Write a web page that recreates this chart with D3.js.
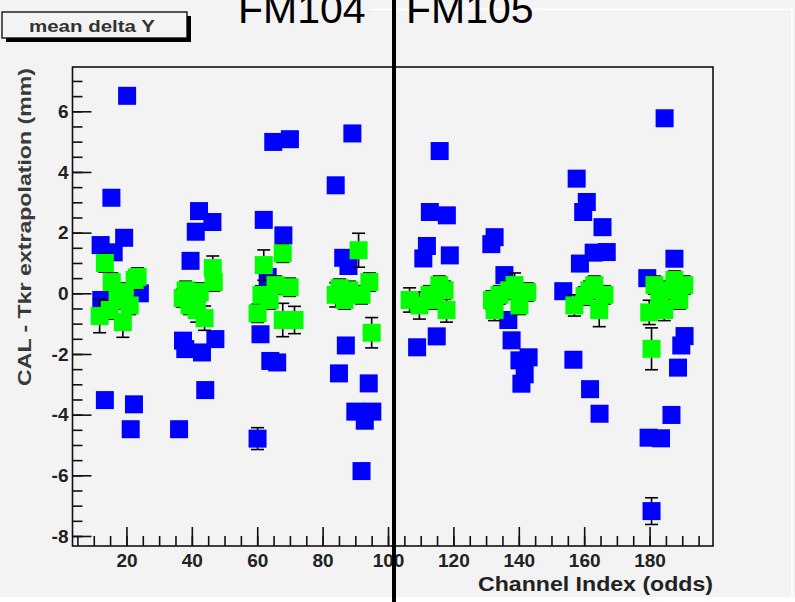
<!DOCTYPE html>
<html>
<head>
<meta charset="UTF-8">
<title>mean delta Y</title>
<script src="https://d3js.org/d3.v7.min.js"></script>
<style>
  body { margin: 0; background: #f3f3f3; }
  svg { display: block; }
</style>
</head>
<body>
<script>
// blue series: channel index, mean delta Y (mm), error
var blueX = [12.1, 12.3, 13.4, 15.4, 16.1, 19.3, 20.2, 21.3, 22.3, 24.1,
             36.1, 37.3, 38.0, 39.6, 41.2, 42.2, 43.1, 44.1, 46.3, 47.2,
             60.1, 61.0, 62.0, 63.2, 64.0, 64.9, 66.1, 68.0, 70.0,
             84.0, 85.0, 86.3, 87.1, 87.9, 89.1, 90.0, 91.9, 92.9, 94.1, 95.2,
             108.9, 110.8, 111.9, 112.8, 114.9, 115.8, 118.0, 118.9,
             131.6, 132.6, 135.6, 136.8, 137.8, 140.2, 140.8, 141.8, 143.0,
             153.6, 156.7, 157.7, 158.7, 159.7, 160.8, 161.8, 162.9, 164.7, 165.6, 166.9,
             179.3, 179.7, 180.6, 183.5, 184.6, 186.7, 187.6, 188.7, 189.7, 190.7];
var blueY = [1.59, -0.22, -3.52, 3.15, 1.35, 1.83, 6.51, -4.48, -3.66, 0.0,
             -4.48, -1.56, -1.84, 1.07, 2.03, 2.71, -1.95, -3.19, 2.35, -1.51,
             -4.79, -1.35, 2.42, 0.54, -2.23, 4.99, -2.28, 1.91, 5.08,
             3.56, -2.64, 1.17, -1.72, 0.9, 5.27, -3.9, -5.86, -4.2, -2.97, -3.9,
             -1.78, 1.15, 1.56, 2.68, -1.42, 4.69, 2.57, 1.25,
             1.62, 1.85, 0.6, -0.88, -1.55, -2.21, -2.98, -2.67, -2.11,
             0.07, -2.19, 3.78, 0.98, 2.68, 3.01, -3.16, 1.34, -3.97, 2.18, 1.36,
             0.5, -4.76, -7.18, -4.78, 5.77, -4.01, 1.14, -2.45, -1.72, -1.41];
var blueErr = [0.2, 0.2, 0.2, 0.2, 0.2, 0.2, 0.2, 0.2, 0.2, 0.2,
               0.2, 0.2, 0.2, 0.2, 0.2, 0.2, 0.2, 0.2, 0.2, 0.2,
               0.36, 0.2, 0.2, 0.2, 0.2, 0.2, 0.2, 0.2, 0.2,
               0.2, 0.2, 0.2, 0.2, 0.2, 0.2, 0.2, 0.2, 0.2, 0.2, 0.2,
               0.2, 0.2, 0.2, 0.2, 0.2, 0.2, 0.2, 0.2,
               0.2, 0.2, 0.2, 0.2, 0.2, 0.2, 0.2, 0.2, 0.2,
               0.2, 0.2, 0.2, 0.2, 0.2, 0.2, 0.2, 0.2, 0.2, 0.2, 0.2,
               0.2, 0.2, 0.44, 0.2, 0.2, 0.2, 0.2, 0.2, 0.2, 0.2];

// green series
var greenX = [11.8, 13.4, 14.9, 15.5, 17.3, 18.9, 19.5, 21.0, 22.5, 23.4,
              37.2, 38.1, 39.3, 41.5, 42.4, 43.9, 46.4, 46.7,
              60.1, 61.3, 62.0, 63.8, 65.6, 67.8, 67.8, 69.9, 71.4,
              84.0, 85.2, 86.7, 88.2, 91.0, 91.9, 94.3, 95.0,
              106.6, 109.6, 112.7, 114.2, 115.7, 117.3, 117.9,
              131.8, 132.6, 134.1, 137.1, 138.7, 140.2, 142.6,
              157.0, 160.1, 161.6, 163.1, 164.6, 166.2,
              179.9, 180.6, 181.5, 183.0, 184.5, 185.4, 187.6, 189.1, 190.6];
var greenY = [-0.75, 1.0, -0.55, 0.37, -0.22, -0.95, 0.04, -0.4, 0.44, 0.54,
              -0.16, 0.1, -0.4, -0.55, 0.04, -0.82, 0.83, 0.37,
              -0.66, -0.05, 0.93, -0.22, 0.27, 1.32, -0.88, 0.2, -0.88,
              -0.05, 0.17, -0.22, 0.1, 1.42, -0.05, 0.37, -1.3,
              -0.22, -0.4, -0.05, -0.22, 0.27, 0.1, -0.55,
              -0.22, -0.55, -0.05, 0.1, 0.27, -0.4, 0.04,
              -0.4, -0.09, 0.1, 0.27, -0.55, -0.05,
              -0.63, -1.83, 0.27, -0.22, -0.55, 0.1, 0.44, -0.22, 0.27];
var greenErr = [0.55, 0.3, 0.3, 0.3, 0.3, 0.5, 0.3, 0.3, 0.3, 0.3,
                0.3, 0.3, 0.3, 0.4, 0.3, 0.4, 0.4, 0.3,
                0.3, 0.3, 0.5, 0.3, 0.3, 0.3, 0.55, 0.3, 0.45,
                0.4, 0.3, 0.3, 0.3, 0.56, 0.3, 0.3, 0.5,
                0.4, 0.45, 0.3, 0.3, 0.3, 0.3, 0.4,
                0.3, 0.35, 0.3, 0.3, 0.4, 0.3, 0.3,
                0.35, 0.3, 0.3, 0.3, 0.55, 0.3,
                0.4, 0.69, 0.3, 0.3, 0.35, 0.3, 0.3, 0.3, 0.3];

var xTicks = [20, 40, 60, 80, 100, 120, 140, 160, 180];
var yTicks = [-8, -6, -4, -2, 0, 2, 4, 6];

(function () {
    var W = 795, H = 602;
    var pL = 72.5, pR = 713, pT = 67, pB = 546;
    var msize = 18;
    var fam = '"Liberation Sans", Arial, sans-serif';

    var svg = d3.select('body').append('svg')
        .attr('width', W).attr('height', H)
        .style('font-family', fam);

    svg.append('rect').attr('width', W).attr('height', H).attr('fill', '#f3f3f3');
    // pale page edges of the original screenshot
    svg.append('rect').attr('x', 0).attr('y', 597).attr('width', W).attr('height', 5).attr('fill', '#fff');
    svg.append('line').attr('x1', 370).attr('x2', 792).attr('y1', 9.5).attr('y2', 9.5)
        .attr('stroke', '#fff').attr('stroke-width', 1.5);
    svg.append('line').attr('x1', 792).attr('x2', 792).attr('y1', 9).attr('y2', 597)
        .attr('stroke', '#fff').attr('stroke-width', 1.5);

    var x = d3.scaleLinear().domain([3.5, 199.4]).range([pL, pR]);
    var y = d3.scaleLinear().domain([-8.33, 7.46]).range([pB, pT]);

    // minor ticks
    svg.append('g').attr('transform', 'translate(' + pL + ',0)')
        .call(d3.axisLeft(y).tickValues(d3.range(-8, 7.5, 0.5)).tickSize(-10).tickFormat(''));
    svg.append('g').attr('transform', 'translate(0,' + pB + ')')
        .call(d3.axisBottom(x).tickValues(d3.range(5, 200, 5)).tickSize(-10).tickFormat(''));

    // major ticks + labels
    var yAxis = svg.append('g').attr('transform', 'translate(' + pL + ',0)')
        .call(d3.axisLeft(y).tickValues(yTicks).tickSize(-19).tickPadding(4)
            .tickFormat(function (d) { return String(d); }));
    var xAxis = svg.append('g').attr('transform', 'translate(0,' + pB + ')')
        .call(d3.axisBottom(x).tickValues(xTicks).tickSize(-19).tickPadding(5)
            .tickFormat(function (d) { return String(d); }));

    svg.selectAll('.domain').remove();
    svg.selectAll('.tick line').attr('stroke', '#111').attr('stroke-width', 1.6);
    svg.selectAll('.tick text').attr('fill', '#222').attr('font-size', 19)
        .attr('font-weight', 'bold').attr('font-family', fam);
    xAxis.selectAll('.tick text').attr('dy', '0.85em');

    // frame
    svg.append('rect').attr('x', pL).attr('y', pT)
        .attr('width', pR - pL).attr('height', pB - pT)
        .attr('fill', 'none').attr('stroke', '#111').attr('stroke-width', 1.6);

    function drawSeries(xs, ys, es, color) {
        var pts = xs.map(function (v, i) { return {x: v, y: ys[i], e: es[i]}; });
        var g = svg.append('g');
        var eb = g.selectAll('g.eb').data(pts).enter().append('g')
            .attr('stroke', '#000').attr('stroke-width', 1.6);
        eb.append('line')
            .attr('x1', function (d) { return x(d.x); }).attr('x2', function (d) { return x(d.x); })
            .attr('y1', function (d) { return y(d.y + d.e); }).attr('y2', function (d) { return y(d.y - d.e); });
        eb.append('line')
            .attr('x1', function (d) { return x(d.x) - 6.5; }).attr('x2', function (d) { return x(d.x) + 6.5; })
            .attr('y1', function (d) { return y(d.y + d.e); }).attr('y2', function (d) { return y(d.y + d.e); });
        eb.append('line')
            .attr('x1', function (d) { return x(d.x) - 6.5; }).attr('x2', function (d) { return x(d.x) + 6.5; })
            .attr('y1', function (d) { return y(d.y - d.e); }).attr('y2', function (d) { return y(d.y - d.e); });
        g.selectAll('rect').data(pts).enter().append('rect')
            .attr('x', function (d) { return x(d.x) - msize / 2; })
            .attr('y', function (d) { return y(d.y) - msize / 2; })
            .attr('width', msize).attr('height', msize)
            .attr('fill', color);
    }
    drawSeries(blueX, blueY, blueErr, '#0000ff');
    drawSeries(greenX, greenY, greenErr, '#00ff00');

    // axis titles
    svg.append('text').attr('x', pR).attr('y', 591)
        .attr('text-anchor', 'end').attr('font-size', 21).attr('font-weight', 'bold')
        .attr('fill', '#222').attr('textLength', 235).attr('lengthAdjust', 'spacingAndGlyphs')
        .text('Channel Index (odds)');
    svg.append('text').attr('transform', 'translate(31,227) rotate(-90)')
        .attr('text-anchor', 'middle').attr('font-size', 18).attr('font-weight', 'bold')
        .attr('fill', '#3a3a3a').attr('textLength', 318).attr('lengthAdjust', 'spacingAndGlyphs')
        .text('CAL - Tkr extrapolation (mm)');

    // title box
    svg.append('rect').attr('x', 6).attr('y', 16).attr('width', 185).attr('height', 26).attr('fill', '#000');
    svg.append('rect').attr('x', 2).attr('y', 12).attr('width', 185).attr('height', 26)
        .attr('fill', '#f3f3f3').attr('stroke', '#000').attr('stroke-width', 1.3);
    svg.append('text').attr('x', 92).attr('y', 31.5).attr('text-anchor', 'middle')
        .attr('font-size', 16).attr('font-weight', 'bold').attr('fill', '#333')
        .attr('textLength', 126).attr('lengthAdjust', 'spacingAndGlyphs')
        .text('mean delta Y');

    // module labels + separator
    svg.append('text').attr('x', 238).attr('y', 23).attr('font-size', 41).attr('fill', '#000').text('FM104');
    svg.append('text').attr('x', 406).attr('y', 23).attr('font-size', 41).attr('fill', '#000').text('FM105');
    svg.append('rect').attr('x', 392).attr('y', 0).attr('width', 4).attr('height', H).attr('fill', '#000');
})();
</script>
</body>
</html>
